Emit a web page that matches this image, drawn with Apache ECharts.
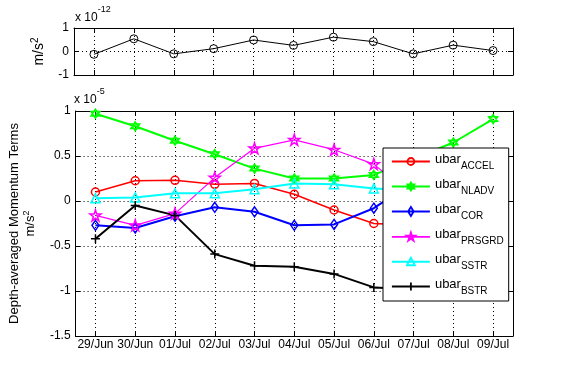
<!DOCTYPE html>
<html><head><meta charset="utf-8">
<script src="https://cdn.jsdelivr.net/npm/echarts@6/dist/echarts.min.js"></script>
<style>html,body{margin:0;padding:0;background:#fff}#c{width:567px;height:378px}</style>
</head><body><div id="c"></div>
<script>
// ---- data ----
const dates = ['29/Jun','30/Jun','01/Jul','02/Jul','03/Jul','04/Jul','05/Jul','06/Jul','07/Jul','08/Jul','09/Jul'];
const residualTop = [-0.12, 0.54, -0.10, 0.12, 0.49, 0.26, 0.61, 0.42, -0.10, 0.27, 0.04]; // x 1e-12
const accel  = [0.10, 0.225, 0.23, 0.185, 0.195, 0.075, -0.10, -0.25, -0.27, -0.20, -0.10]; // x 1e-5
const nladv  = [0.97, 0.83, 0.67, 0.52, 0.36, 0.25, 0.25, 0.29, 0.47, 0.65, 0.91];
const cor    = [-0.27, -0.30, -0.17, -0.07, -0.12, -0.27, -0.26, -0.08, 0.21, 0.10, 0.05];
const prsgrd = [-0.16, -0.27, -0.14, 0.26, 0.585, 0.68, 0.57, 0.41, 0.04, -0.10, -0.20];
const sstr   = [0.03, 0.04, 0.085, 0.085, 0.13, 0.195, 0.185, 0.14, 0.12, 0.10, 0.08];
const bstr   = [-0.42, -0.05, -0.16, -0.59, -0.72, -0.73, -0.81, -0.96, -0.98, -0.95, -0.90];
const seriesNames = ['ACCEL','NLADV','COR','PRSGRD','SSTR','BSTR'];
const topTicks = [-1, 0, 1];
const bottomTicks = [-1.5, -1, -0.5, 0, 0.5, 1];

// ---- styling ----
const FONT = "'Liberation Sans', Arial, sans-serif";
const dotted = {color:'#000', width:1, type:[1,3]};
const HEX = 'path://M5,0 L9.33,7.5 L0.67,7.5 Z M5,10 L0.67,2.5 L9.33,2.5 Z';
const STAR = 'path://M5,0 L6.123,3.455 L9.755,3.455 L6.816,5.59 L7.939,9.045 L5,6.91 L2.061,9.045 L3.184,5.59 L0.245,3.455 L3.877,3.455 Z';
const PLUS = 'path://M5,0 L5,10 M0,5 L10,5';
// legend icons: line across 38px with the marker in the middle
const LINE = 'M0,5 L38,5 ';
const ICONS = {
  ACCEL:  'path://' + LINE + 'M15.5,5 A3.5,3.5 0 1 1 22.5,5 A3.5,3.5 0 1 1 15.5,5 Z',
  NLADV:  'path://' + LINE + 'M19,1 L22.46,7 L15.54,7 Z M19,9 L15.54,3 L22.46,3 Z',
  COR:    'path://' + LINE + 'M19,0.5 L21.8,5 L19,9.5 L16.2,5 Z',
  PRSGRD: 'path://' + LINE + 'M19,0.5 L20.01,3.61 L23.28,3.61 L20.63,5.53 L21.65,8.64 L19,6.72 L16.35,8.64 L17.37,5.53 L14.72,3.61 L17.99,3.61 Z',
  SSTR:   'path://' + LINE + 'M19,1 L23,8.5 L15,8.5 Z',
  BSTR:   'path://' + LINE + 'M19,1 L19,9'
};
const COLORS = {ACCEL:'#ff0000', NLADV:'#00ff00', COR:'#0000ff', PRSGRD:'#ff00ff', SSTR:'#00ffff', BSTR:'#000000'};

function catAxis(gridIndex, position, showLabels, showSplit) {
  return {
    type:'category', gridIndex, position, data: dates, boundaryGap: true,
    axisLine: {show:true, onZero:false, lineStyle:{color:'#000', width:1}},
    axisTick: {show:true, inside:true, alignWithLabel:true, interval:0, length:5, lineStyle:{color:'#000'}},
    axisLabel: {show: showLabels, interval:0, color:'#000', fontSize:12, fontFamily:FONT, margin:3},
    splitLine: {show: showSplit, alignWithLabel:true, interval:0, lineStyle: dotted}
  };
}
function valAxis(gridIndex, position, ticks, showLabels, showSplit, extra) {
  return Object.assign({
    type:'value', gridIndex, position,
    min: ticks[0], max: ticks[ticks.length-1], interval: ticks[1]-ticks[0],
    axisLine: {show:true, onZero:false, lineStyle:{color:'#000', width:1}},
    axisTick: {show:true, inside:true, length:5, lineStyle:{color:'#000'}},
    axisLabel: {show: showLabels, color:'#000', fontSize:12, fontFamily:FONT, margin:5},
    splitLine: {show: showSplit, lineStyle: dotted}
  }, extra || {});
}

function mkSeries(name, data, symbol, size, lw) {
  const color = COLORS[name];
  return {
    name, type:'line', xAxisIndex:2, yAxisIndex:2, data,
    color, symbol, symbolSize:size, showSymbol:true, showAllSymbol:true,
    lineStyle:{color, width:lw},
    itemStyle:{color:'rgba(255,255,255,0)', borderColor:color, borderWidth:1.5},
    emphasis:{disabled:true}
  };
}

const chart = echarts.init(document.getElementById('c'), null, {renderer:'canvas'});
const option = {
  animation:false,
  backgroundColor:'#fff',
  textStyle:{fontFamily:FONT},
  grid:[
    {left:74, right:54, top:28, height:47, containLabel:false},
    {left:74, right:54, top:111, height:225, containLabel:false}
  ],
  xAxis:[
    catAxis(0,'bottom',false,true),
    catAxis(0,'top',false,false),
    catAxis(1,'bottom',true,true),
    catAxis(1,'top',false,false)
  ],
  yAxis:[
    valAxis(0,'left',topTicks,true,true,{
      name:'{n|m/s}{p|2}', nameLocation:'middle', nameGap:20,
      nameTextStyle:{rich:{n:{fontSize:14, lineHeight:17, color:'#000', fontFamily:FONT},
                           p:{fontSize:10, lineHeight:10, padding:[0,0,7,0], color:'#000', fontFamily:FONT}}}
    }),
    valAxis(0,'right',topTicks,false,false),
    valAxis(1,'left',bottomTicks,true,true,{
      name:'{n|Depth-averaged Momentum Terms}\n{n|m/s}{p|2}', nameLocation:'middle', nameGap:30,
      nameTextStyle:{align:'center', rich:{n:{fontSize:13, lineHeight:16, color:'#000', fontFamily:FONT, align:'center'},
                           p:{fontSize:9, lineHeight:9, padding:[0,0,8,0], color:'#000', fontFamily:FONT}}}
    }),
    valAxis(1,'right',bottomTicks,false,false)
  ],
  legend:{
    data: seriesNames.map(n => ({
      name:n, icon:ICONS[n],
      itemStyle:{color:'rgba(255,255,255,0)', borderColor:COLORS[n], borderWidth:1.8}
    })),
    orient:'vertical', left:383, top:148,
    padding:[4,5,5,8], itemGap:6, itemWidth:38, itemHeight:10, symbolKeepAspect:true,
    backgroundColor:'#fff', borderColor:'#000', borderWidth:1, borderRadius:0,
    selectedMode:false,
    formatter: n => '{u|ubar}{s|' + n + '}',
    textStyle:{rich:{
      u:{fontSize:13, lineHeight:13, padding:[1,0,5,0], color:'#000', fontFamily:FONT},
      s:{fontSize:10, lineHeight:10, padding:[9,0,0,0], color:'#000', fontFamily:FONT}
    }}
  },
  graphic:[
    {type:'text', left:75, top:5, style:{text:'{a|x 10}{b|-12}', rich:{
      a:{fontSize:12, lineHeight:12, padding:[6.5,0,0,0], fill:'#000', fontFamily:FONT},
      b:{fontSize:9, lineHeight:9, padding:[0,0,9.5,0], fill:'#000', fontFamily:FONT}}}},
    {type:'text', left:74, top:87, style:{text:'{a|x 10}{b|-5}', rich:{
      a:{fontSize:12, lineHeight:12, padding:[6.5,0,0,0], fill:'#000', fontFamily:FONT},
      b:{fontSize:9, lineHeight:9, padding:[0,0,9.5,0], fill:'#000', fontFamily:FONT}}}}
  ],
  series:[
    {name:'resid', type:'line', xAxisIndex:0, yAxisIndex:0, data:residualTop,
     symbol:'circle', symbolSize:8, showAllSymbol:true, color:'#000',
     lineStyle:{color:'#000', width:1},
     itemStyle:{color:'rgba(255,255,255,0)', borderColor:'#000', borderWidth:1},
     emphasis:{disabled:true}},
    mkSeries('ACCEL', accel, 'circle', 8, 1.5),
    mkSeries('NLADV', nladv, HEX, 9, 2),
    mkSeries('COR', cor, 'diamond', [7,10], 2),
    mkSeries('PRSGRD', prsgrd, STAR, 11, 1.2),
    mkSeries('SSTR', sstr, 'triangle', 9, 2),
    mkSeries('BSTR', bstr, PLUS, 9, 2)
  ]
};
chart.setOption(option);
</script></body></html>
